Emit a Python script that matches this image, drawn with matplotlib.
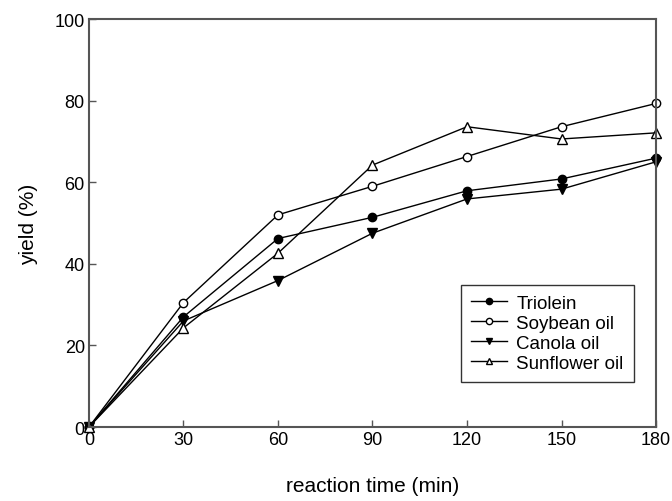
# yield vs reaction time for four oils
import matplotlib.pyplot as plt
import numpy as np

plt.rcParams['font.family'] = ['Liberation Sans', 'DejaVu Sans']

time = [0, 30, 60, 90, 120, 150, 180]
triolein = [0, 27.0, 46.2, 51.4, 57.9, 60.8, 65.9]
soybean = [0, 30.5, 52.0, 59.0, 66.3, 73.6, 79.3]
canola = [0, 26.0, 35.9, 47.5, 55.9, 58.3, 65.0]
sunflower = [0, 24.3, 42.6, 64.2, 73.6, 70.6, 72.1]

fig = plt.figure(figsize=(6.72, 5.02), dpi=100)
ax = fig.add_axes([0.1324, 0.1474, 0.8438, 0.8127])

ax.plot(time, triolein, '-o', color='black', lw=1, ms=6, mfc='black', label='Triolein', clip_on=False)
ax.plot(time, soybean, '-o', color='black', lw=1, ms=6, mfc='white', label='Soybean oil', clip_on=False)
ax.plot(time, canola, '-v', color='black', lw=1, ms=6.5, mfc='black', label='Canola oil', clip_on=False)
ax.plot(time, sunflower, '-^', color='black', lw=1, ms=6.5, mfc='white', label='Sunflower oil', clip_on=False)

ax.set_xlim(0, 180)
ax.set_ylim(0, 100)
ax.set_xticks(np.arange(0, 181, 30))
ax.set_yticks(np.arange(0, 101, 20))
ax.tick_params(direction='in', length=5, width=1, color='#555555', labelsize=13, pad=3)
for s in ax.spines.values():
    s.set_color('#555555')
    s.set_linewidth(1.5)

ax.set_xlabel('reaction time (min)', fontsize=15, labelpad=20)
ax.set_ylabel('yield (%)', fontsize=15, labelpad=12)

leg = ax.legend(loc='lower right', bbox_to_anchor=(0.961, 0.11), borderaxespad=0,
                fontsize=13.5, fancybox=False, edgecolor='#333333', framealpha=1,
                markerscale=0.75, handlelength=1.9, labelspacing=0.15,
                handletextpad=0.5, borderpad=0.55)
leg.get_frame().set_linewidth(1)

fig.savefig('out.png', dpi=100)
